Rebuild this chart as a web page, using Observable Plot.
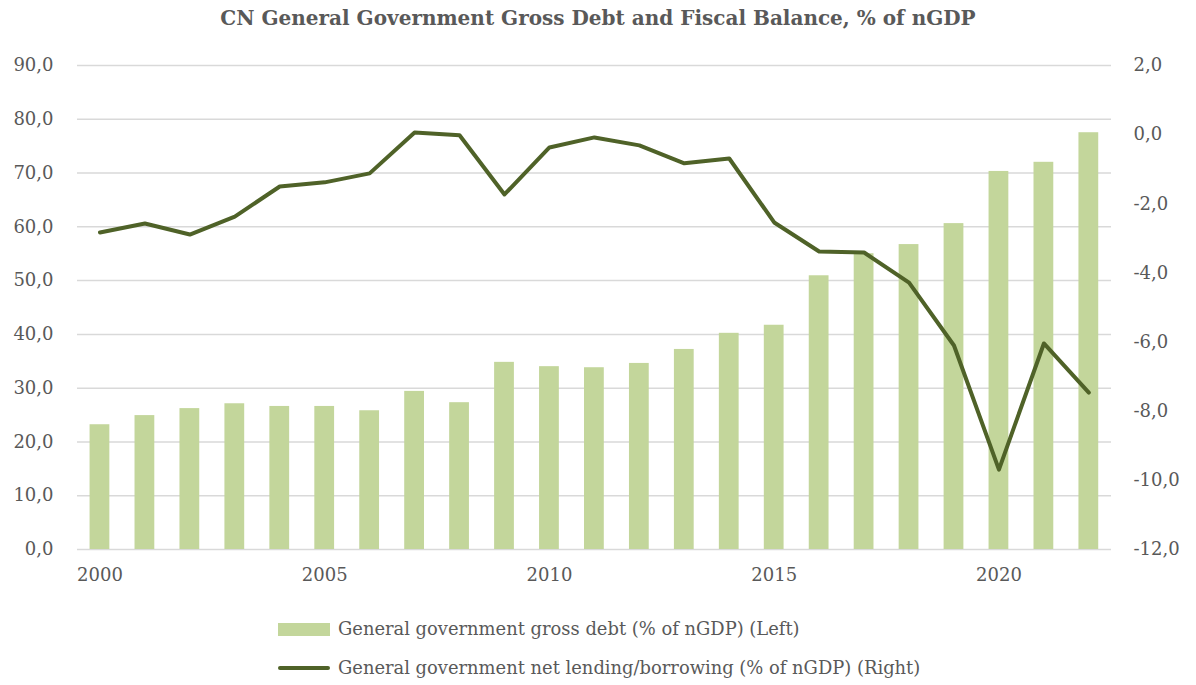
<!DOCTYPE html>
<html><head><meta charset="utf-8">
<script src="https://cdn.jsdelivr.net/npm/d3@7"></script>
<script src="https://cdn.jsdelivr.net/npm/@observablehq/plot@0.6"></script>
<style>
body{margin:0;background:#fff;font-family:"DejaVu Serif",serif;color:#595959;width:1196px;height:685px;position:relative;overflow:hidden;}
#title{position:absolute;left:0;top:0;width:1196px;height:36px;line-height:36px;text-align:center;font-weight:bold;font-size:20px;}
#chart{position:absolute;left:0;top:36px;}
.leg{position:absolute;left:278px;font-size:17.9px;height:24px;line-height:24px;white-space:nowrap;}
.leg .sw{position:absolute;left:0;width:52px;}
.leg .lab{position:absolute;left:60px;top:0;}
</style></head><body>
<div id="title">CN General Government Gross Debt and Fiscal Balance, % of nGDP</div>
<div id="chart"></div>
<div class="leg" style="top:617px"><div class="sw" style="top:6px;height:13px;background:#c3d69b"></div><div class="lab">General government gross debt (% of nGDP) (Left)</div></div>
<div class="leg" style="top:656px"><div class="sw" style="top:10px;height:4px;border-radius:2px;background:#4f6228"></div><div class="lab">General government net lending/borrowing (% of nGDP) (Right)</div></div>
<script>
const years = [2000,2001,2002,2003,2004,2005,2006,2007,2008,2009,2010,2011,2012,2013,2014,2015,2016,2017,2018,2019,2020,2021,2022];
const grossDebt = [23.2,24.9,26.2,27.1,26.6,26.6,25.8,29.4,27.3,34.8,34.0,33.8,34.6,37.2,40.2,41.7,50.9,55.0,56.7,60.6,70.3,72.0,77.5];
const netLending = [-2.83,-2.57,-2.89,-2.37,-1.50,-1.38,-1.12,0.06,-0.02,-1.73,-0.37,-0.08,-0.31,-0.83,-0.69,-2.54,-3.38,-3.41,-4.28,-6.10,-9.69,-6.04,-7.46];
const leftTicks = [0,10,20,30,40,50,60,70,80,90];
const rightTicks = [-12,-10,-8,-6,-4,-2,0,2];
const xTickLabels = [2000,2005,2010,2015,2020];

const lMin = 0, lMax = 90, rMin = -12, rMax = 2;
const toLeft = v => (v - rMin) * (lMax - lMin) / (rMax - rMin) + lMin;
const fromLeft = v => (v - lMin) * (rMax - rMin) / (lMax - lMin) + rMin;
const fmt = v => v.toFixed(1).replace(".", ",");

const data = years.map((y, i) => ({year: y, debt: grossDebt[i], net: netLending[i]}));

const chart = Plot.plot({
  width: 1196, height: 564,
  marginTop: 29, marginBottom: 51, marginLeft: 77, marginRight: 85,
  style: {fontFamily: "'DejaVu Serif', serif", fontSize: "18px", color: "#595959", background: "white", overflow: "visible"},
  x: {type: "band", domain: years, padding: 0.56, range: [64.4, 1123.4], round: false, axis: null, label: null},
  y: {domain: [lMin, lMax], axis: null, label: null},
  marks: [
    Plot.gridY(leftTicks, {stroke: "#d9d9d9", strokeOpacity: 1, strokeWidth: 1.5}),
    Plot.barY(data, {x: "year", y: "debt", fill: "#c3d69b"}),
    Plot.line(data, {x: "year", y: d => toLeft(d.net), stroke: "#4f6228", strokeWidth: 4, strokeLinejoin: "round"}),
    Plot.axisY(leftTicks, {anchor: "left", tickSize: 0, tickPadding: 24, tickFormat: fmt, fill: "#595959", label: null}),
    Plot.axisY(rightTicks.map(toLeft), {anchor: "right", tickSize: 0, tickPadding: 22, tickFormat: d => fmt(fromLeft(d)), fill: "#595959", label: null}),
    Plot.axisX(xTickLabels, {anchor: "bottom", tickSize: 0, tickPadding: 19, tickFormat: d => String(d), fill: "#595959", label: null})
  ]
});
document.getElementById("chart").appendChild(chart);
</script>
</body></html>
